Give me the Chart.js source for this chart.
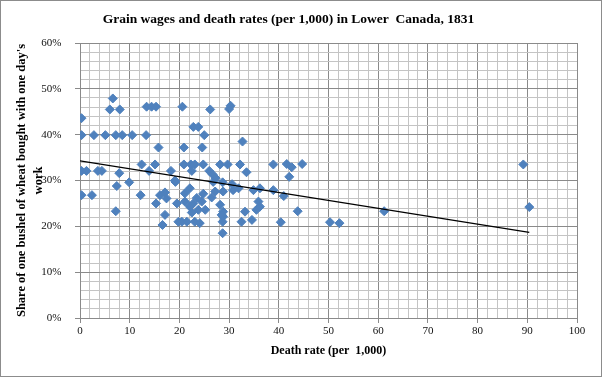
<!DOCTYPE html>
<html>
<head>
<meta charset="utf-8">
<title>Grain wages and death rates</title>
<script src="https://cdn.jsdelivr.net/npm/chart.js@4/dist/chart.umd.min.js"></script>
<style>
    html, body { margin: 0; padding: 0; background: #ffffff; }
    #wrap { position: relative; width: 602px; height: 377px; }
</style>
</head>
<body>
<div id="wrap"><canvas id="grainChart"></canvas></div>
<script>
// ============================================================================
// DATA
// ============================================================================
// Death rate per 1,000, one entry per parish
var deathRate = [
    0.3, 0.3, 2.8, 5.1, 7.2, 8.5, 10.5, 13.3, 6.6, 6.0,
    8.0, 13.4, 14.4, 15.3, 15.8, 12.4, 15.1, 13.9, 18.3, 0.3,
    1.3, 3.6, 4.4, 7.9, 9.9, 7.4, 19.2, 0.3, 2.4, 12.2,
    16.1, 17.1, 17.4, 15.3, 19.5, 7.2, 17.1, 16.6, 19.8, 20.6,
    26.2, 30.3, 30.0, 22.8, 23.8, 25.0, 20.9, 24.6, 32.7, 20.9,
    22.3, 23.1, 24.8, 28.2, 29.7, 32.2, 38.9, 22.5, 26.0, 26.7,
    33.5, 27.3, 28.7, 41.6, 42.6, 44.7, 42.1, 38.9, 41.0, 43.8,
    40.4, 50.3, 52.2, 61.2, 89.2, 90.4, 26.8, 22.1, 21.1, 24.8,
    27.2, 28.8, 30.8, 31.9, 34.9, 36.2, 35.9, 21.1, 22.8, 24.5,
    22.1, 23.8, 25.2, 28.2, 28.8, 33.2, 35.5, 36.2, 20.5, 21.5,
    23.1, 24.1, 28.7, 32.5, 34.6, 28.8, 28.7, 28.5, 23.5, 22.5,
    26.5, 30.6, 19.1
];

// Share (%) of one bushel of wheat bought with one day's work
var wheatShare = [
    43.6, 39.9, 39.9, 39.9, 39.9, 39.9, 39.9, 39.9, 47.9, 45.5,
    45.5, 46.1, 46.1, 46.1, 37.2, 33.5, 33.5, 32.1, 32.1, 32.1,
    32.1, 32.1, 32.1, 31.6, 29.6, 28.8, 29.7, 26.8, 26.8, 26.8,
    26.8, 27.4, 26.1, 25.0, 25.0, 23.3, 22.5, 20.3, 21.0, 46.1,
    45.5, 46.3, 45.6, 41.7, 41.7, 39.9, 37.2, 37.2, 38.5, 33.5,
    33.5, 33.5, 33.5, 33.5, 33.5, 33.5, 33.5, 32.1, 32.1, 31.3,
    31.8, 30.5, 29.6, 33.6, 32.9, 33.6, 30.8, 27.9, 26.6, 23.3,
    20.9, 20.9, 20.7, 23.3, 33.5, 24.2, 29.7, 28.3, 27.2, 27.1,
    27.6, 27.6, 27.9, 28.3, 27.9, 28.3, 25.4, 25.4, 25.0, 25.4,
    24.3, 23.6, 23.6, 24.7, 23.2, 23.2, 23.6, 24.3, 21.0, 21.0,
    21.0, 20.7, 21.0, 21.0, 21.4, 22.1, 18.5, 22.5, 26.2, 23.0,
    26.3, 29.2, 30.0
];

// Linear trendline end points as drawn on the original
var trendDeath = [0, 90.4];
var trendShare = [34.3, 18.7];

// Axis ranges / tick steps
var xRange = [0, 100];
var yRange = [0, 60];
var minorStep = 2;
var majorStep = 10;

// ============================================================================
// CHART SETUP
// ============================================================================
var SERIF = "'Liberation Serif', 'Times New Roman', serif";
var MAJOR_GRID = '#8a8a8a';
var MINOR_GRID = '#c4c4c4';

function toPoints(xs, ys) {
    var pts = [];
    for (var i = 0; i < xs.length; i++) {
        pts.push({ x: xs[i], y: ys[i] });
    }
    return pts;
}

function isMajor(value) {
    return Math.abs(value % majorStep) < 1e-6;
}

// White background + thin outer frame like the Excel chart box
var chartFrame = {
    id: 'chartFrame',
    beforeDraw: function(chart) {
        var ctx = chart.ctx;
        ctx.save();
        ctx.fillStyle = '#ffffff';
        ctx.fillRect(0, 0, chart.width, chart.height);
        ctx.restore();
    },
    afterDraw: function(chart) {
        var ctx = chart.ctx;
        ctx.save();
        ctx.strokeStyle = '#8c8c8c';
        ctx.lineWidth = 1;
        ctx.strokeRect(0.5, 0.5, chart.width - 1, chart.height - 1);
        ctx.restore();
    }
};

function gridOptions() {
    return {
        color: function(c) { return isMajor(c.tick.value) ? MAJOR_GRID : MINOR_GRID; },
        tickColor: function(c) { return isMajor(c.tick.value) ? MAJOR_GRID : 'rgba(0,0,0,0)'; },
        lineWidth: 1,
        drawTicks: true,
        tickLength: 5
    };
}

var ctx = document.getElementById('grainChart');

new Chart(ctx, {
    type: 'scatter',
    data: {
        datasets: [
            {
                label: 'Trend',
                type: 'line',
                data: toPoints(trendDeath, trendShare),
                borderColor: '#000000',
                borderWidth: 1.2,
                pointRadius: 0,
                fill: false,
                order: 0
            },
            {
                label: 'Parishes',
                data: toPoints(deathRate, wheatShare),
                pointStyle: 'rectRot',
                pointRadius: 4.5,
                backgroundColor: '#4f81bd',
                borderColor: '#4f81bd',
                borderWidth: 1,
                order: 1
            }
        ]
    },
    options: {
        responsive: true,
        maintainAspectRatio: false,
        animation: false,
        layout: { padding: { left: 0, right: 25, top: 0, bottom: 0 } },
        plugins: {
            legend: { display: false },
            tooltip: { enabled: false },
            title: {
                display: true,
                text: 'Grain wages and death rates (per 1,000) in Lower  Canada, 1831',
                color: '#000000',
                font: { family: SERIF, size: 13.5, weight: 'bold', lineHeight: 1.2 },
                padding: { top: 11, bottom: 15.8 }
            }
        },
        scales: {
            x: {
                type: 'linear',
                min: xRange[0],
                max: xRange[1],
                afterFit: function(scale) { scale.height = 59; },
                ticks: {
                    stepSize: minorStep,
                    autoSkip: false,
                    maxRotation: 0,
                    padding: 2,
                    color: '#111111',
                    font: { family: SERIF, size: 11 },
                    callback: function(v) { return isMajor(v) ? String(v) : ''; }
                },
                grid: gridOptions(),
                border: { display: true, color: MAJOR_GRID },
                title: {
                    display: true,
                    text: 'Death rate (per  1,000)',
                    color: '#000000',
                    font: { family: SERIF, size: 12, weight: 'bold', lineHeight: 1.333 },
                    padding: { top: 0, bottom: 18.4 }
                }
            },
            y: {
                type: 'linear',
                min: yRange[0],
                max: yRange[1],
                afterFit: function(scale) { scale.width = 80; },
                ticks: {
                    stepSize: minorStep,
                    autoSkip: false,
                    padding: 13.5,
                    color: '#111111',
                    font: { family: SERIF, size: 11 },
                    callback: function(v) { return isMajor(v) ? v + '%' : ''; }
                },
                grid: gridOptions(),
                border: { display: true, color: MAJOR_GRID },
                title: {
                    display: true,
                    text: ["Share of one bushel of wheat bought with one day's", 'work'],
                    color: '#000000',
                    font: { family: SERIF, size: 12.5, weight: 'bold', lineHeight: 1.4 },
                    padding: { top: 13, bottom: 0 }
                }
            }
        }
    },
    plugins: [chartFrame]
});
</script>
</body>
</html>
